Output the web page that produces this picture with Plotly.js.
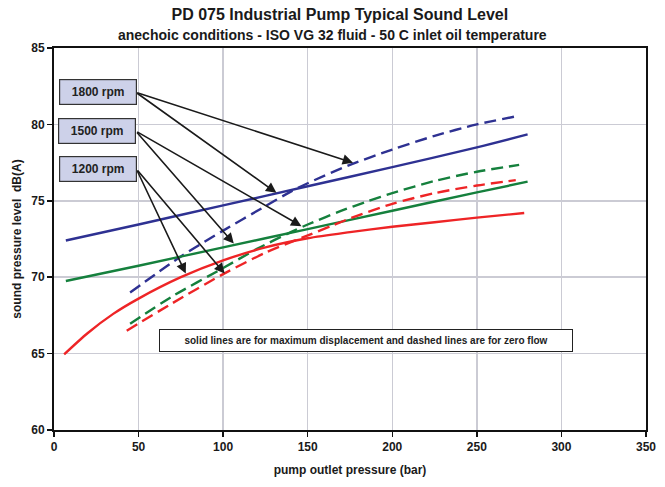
<!DOCTYPE html>
<html>
<head>
<meta charset="utf-8">
<script src="https://cdn.plot.ly/plotly-3.0.1.min.js"></script>
<style>html,body{margin:0;padding:0;background:#fff;}#chart{width:665px;height:487px;}</style>
</head>
<body>
<div id="chart"></div>
<script>
// ---- data ----
var x1800Solid = [7, 50, 100, 150, 200, 250, 280];
var y1800Solid = [72.4, 73.45, 74.7, 75.95, 77.2, 78.5, 79.35];
var x1800Dash = [45, 75, 100, 125, 140, 150, 175, 200, 225, 250, 272];
var y1800Dash = [69.0, 71.35, 73.05, 74.65, 75.6, 76.15, 77.35, 78.35, 79.25, 80.0, 80.5];

var x1500Solid = [7, 50, 100, 150, 200, 250, 280];
var y1500Solid = [69.75, 70.75, 71.95, 73.15, 74.35, 75.55, 76.25];
var x1500Dash = [45, 70, 100, 120, 140, 150, 170, 185, 200, 225, 250, 275];
var y1500Dash = [66.95, 68.75, 70.6, 71.85, 72.95, 73.45, 74.35, 74.95, 75.5, 76.3, 76.9, 77.35];

var x1200Solid = [6, 20, 35, 50, 75, 100, 125, 150, 175, 200, 225, 250, 278];
var y1200Solid = [64.95, 66.35, 67.6, 68.6, 70.0, 71.1, 71.95, 72.55, 72.95, 73.3, 73.6, 73.9, 74.2];
var x1200Dash = [43, 70, 100, 125, 147, 165, 175, 200, 225, 250, 273];
var y1200Dash = [66.5, 68.3, 70.2, 71.6, 72.6, 73.4, 73.85, 74.8, 75.5, 76.0, 76.35];

var speedLabels = ['1800 rpm', '1500 rpm', '1200 rpm'];
var xTickVals = [0, 50, 100, 150, 200, 250, 300, 350];
var yTickVals = [60, 65, 70, 75, 80, 85];

// label box anchors and arrow targets (data coordinates)
var labelX = [25.8, 25.2, 25.8];
var labelY = [82.13, 79.54, 77.05];
var arrowTailX = [48.3, 48.3, 48.7];
var arrowTailY = [82.11, 79.57, 77.08];
var arrowHeadX = [[176.8, 131.5], [146.3, 106.3], [100.9, 77.9]];
var arrowHeadY = [[77.49, 75.52], [73.34, 72.2], [70.24, 70.24]];

var noteText = 'solid lines are for maximum displacement and dashed lines are for zero flow';

// ---- styles ----
var BLUE = '#2e3192', GREEN = '#15803d', RED = '#ee2426';
var LW = 2.4, DASH = '12px,6px';
var FONT = 'Arial, "Liberation Sans", Helvetica, sans-serif';

function tr(x, y, color, dash) {
  return {x: x, y: y, type: 'scatter', mode: 'lines', hoverinfo: 'skip',
    line: {color: color, width: LW, dash: dash || 'solid', shape: 'spline', smoothing: 0.8}};
}
var data = [
  tr(x1800Solid, y1800Solid, BLUE), tr(x1800Dash, y1800Dash, BLUE, DASH),
  tr(x1500Solid, y1500Solid, GREEN), tr(x1500Dash, y1500Dash, GREEN, DASH),
  tr(x1200Solid, y1200Solid, RED), tr(x1200Dash, y1200Dash, RED, DASH)
];

var annotations = [];
for (var i = 0; i < speedLabels.length; i++) {
  for (var j = 0; j < arrowHeadX[i].length; j++) {
    annotations.push({xref: 'x', yref: 'y', axref: 'x', ayref: 'y',
      x: arrowHeadX[i][j], y: arrowHeadY[i][j], ax: arrowTailX[i], ay: arrowTailY[i],
      text: '', showarrow: true, arrowhead: 2, arrowsize: 1.3, arrowwidth: 1.6,
      arrowcolor: '#1a1a1a', standoff: 0, startstandoff: 0});
  }
}
for (var k = 0; k < speedLabels.length; k++) {
  annotations.push({xref: 'x', yref: 'y', x: labelX[k], y: labelY[k], text: speedLabels[k],
    showarrow: false, font: {family: FONT, size: 12, color: '#222', weight: 'bold'},
    bgcolor: '#cdd1e9', bordercolor: '#333', borderwidth: 1.2, borderpad: 1,
    width: 74, height: 22, align: 'center', valign: 'middle'});
}
annotations.push({xref: 'x', yref: 'y', x: 184.2, y: 65.83, text: noteText, showarrow: false,
  font: {family: FONT, size: 10, color: '#222', weight: 'bold'},
  bgcolor: '#ffffff', bordercolor: '#222', borderwidth: 1, borderpad: 1,
  width: 410, height: 19, align: 'center', valign: 'middle'});
annotations.push({xref: 'paper', yref: 'paper', x: 0.4696, y: 1.034, xanchor: 'center', yanchor: 'middle',
  text: 'anechoic conditions - ISO VG 32 fluid - 50 C inlet oil temperature', showarrow: false,
  font: {family: FONT, size: 14, color: '#1a1a1a', weight: 'bold'}});

var axisCommon = {
  showline: true, linecolor: '#111', linewidth: 2, mirror: true,
  showgrid: true, gridcolor: '#cbcbd4', gridwidth: 1.5, zeroline: false,
  ticks: 'outside', ticklen: 5, tickwidth: 1.5, tickcolor: '#111',
  tickfont: {family: FONT, size: 12, color: '#1a1a1a', weight: 'bold'}
};

var layout = {
  width: 665, height: 487,
  margin: {l: 54, r: 19, t: 48, b: 57},
  paper_bgcolor: '#ffffff', plot_bgcolor: '#ffffff',
  showlegend: false,
  title: {text: 'PD 075 Industrial Pump Typical Sound Level', xref: 'container', yref: 'container',
    x: 0.511, y: 0.971, xanchor: 'center', yanchor: 'middle',
    font: {family: FONT, size: 16, color: '#1a1a1a', weight: 'bold'}},
  xaxis: Object.assign({}, axisCommon, {range: [0, 350], tickvals: xTickVals,
    title: {text: 'pump outlet pressure (bar)', standoff: 12,
      font: {family: FONT, size: 12, color: '#1a1a1a', weight: 'bold'}}}),
  yaxis: Object.assign({}, axisCommon, {range: [60, 85], tickvals: yTickVals,
    title: {text: 'sound pressure level  dB(A)', standoff: 7,
      font: {family: FONT, size: 12, color: '#1a1a1a', weight: 'bold'}}}),
  annotations: annotations
};

Plotly.newPlot('chart', data, layout, {displayModeBar: false, staticPlot: true});
</script>
</body>
</html>
